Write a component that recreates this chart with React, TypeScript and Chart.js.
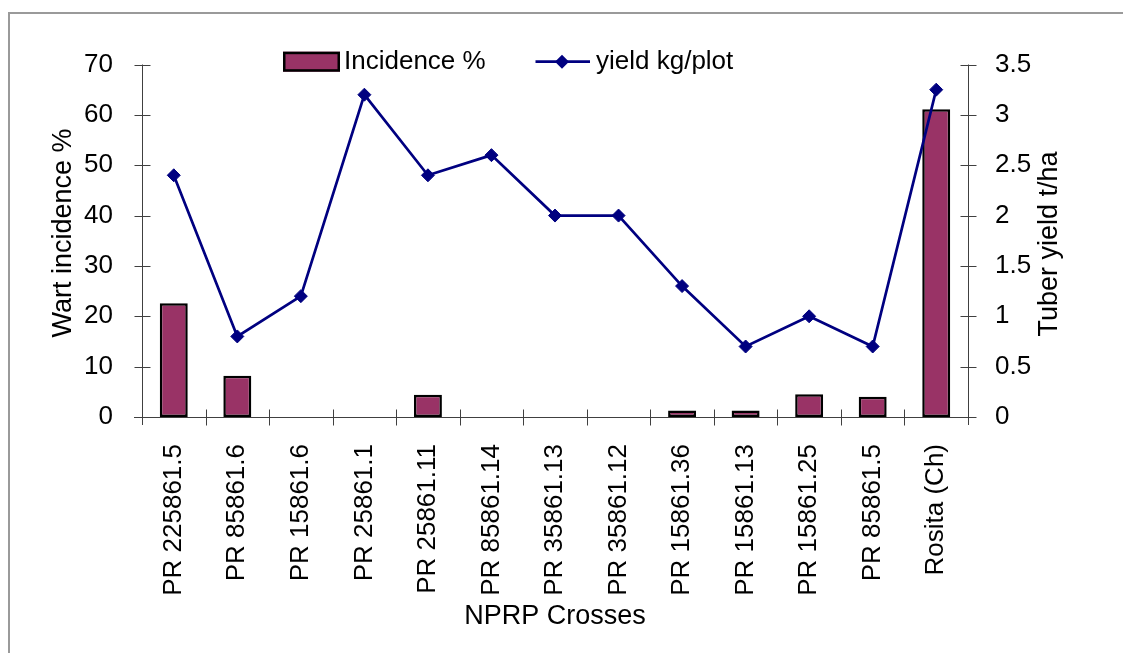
import React, { useEffect, useRef } from "react";
import { Chart, registerables } from "chart.js";

Chart.register(...registerables);

const categories = [
  "PR 225861.5",
  "PR 85861.6",
  "PR 15861.6",
  "PR 25861.1",
  "PR 25861.11",
  "PR 85861.14",
  "PR 35861.13",
  "PR 35861.12",
  "PR 15861.36",
  "PR 15861.13",
  "PR 15861.25",
  "PR 85861.5",
  "Rosita (Ch)",
];
const incidence = [22.6, 8.2, 0, 0, 4.4, 0, 0, 0, 1.3, 1.3, 4.5, 4.0, 61.1];
const yieldKg = [2.4, 0.8, 1.2, 3.2, 2.4, 2.6, 2.0, 2.0, 1.3, 0.7, 1.0, 0.7, 3.25];

const seriesNames = ["Incidence %", "yield kg/plot"];
const axisTitles = { x: "NPRP Crosses", y: "Wart incidence %", y1: "Tuber yield t/ha" };

const FONT = '"Liberation Sans", Arial, sans-serif';
const BAR_COLOR = "#993366";
const LINE_COLOR = "#000080";
const AXIS_COLOR = "#404040";

function diamond(ctx: CanvasRenderingContext2D, x: number, y: number, r: number) {
  ctx.beginPath();
  ctx.moveTo(x - r, y);
  ctx.lineTo(x, y - r);
  ctx.lineTo(x + r, y);
  ctx.lineTo(x, y + r);
  ctx.closePath();
  ctx.fill();
}

const customPlugin = {
  id: "customDecor",
  beforeDraw(chart: any) {
    const ctx = chart.ctx as CanvasRenderingContext2D;
    ctx.save();
    ctx.fillStyle = "#9a9a9a";
    ctx.fillRect(8, 12, chart.width - 8, 2);
    ctx.fillRect(8, 12, 2, chart.height - 12);
    ctx.restore();
  },
  beforeDatasetsDraw(chart: any) {
    const ctx = chart.ctx as CanvasRenderingContext2D;
    const { left, right, top, bottom } = chart.chartArea;
    const xs = chart.scales.x;
    const ys = chart.scales.y;
    const y1s = chart.scales.y1;
    ctx.save();
    ctx.strokeStyle = AXIS_COLOR;
    ctx.lineWidth = 1;
    const L = Math.round(left) + 0.5;
    const R = Math.round(right) + 0.5;
    const B = Math.round(bottom) + 0.5;
    ctx.beginPath();
    ctx.moveTo(L, top);
    ctx.lineTo(L, bottom + 8);
    ctx.moveTo(R, top);
    ctx.lineTo(R, bottom + 8);
    ctx.moveTo(left - 8, B);
    ctx.lineTo(right + 8, B);
    ys.ticks.forEach((t: any) => {
      const py = Math.round(ys.getPixelForValue(t.value)) + 0.5;
      ctx.moveTo(L - 8, py);
      ctx.lineTo(L + 8, py);
    });
    y1s.ticks.forEach((t: any) => {
      const py = Math.round(y1s.getPixelForValue(t.value)) + 0.5;
      ctx.moveTo(R - 8, py);
      ctx.lineTo(R + 8, py);
    });
    const n = categories.length;
    for (let i = 1; i < n; i++) {
      const px = Math.round((xs.getPixelForValue(i - 1) + xs.getPixelForValue(i)) / 2) + 0.5;
      ctx.moveTo(px, B - 8);
      ctx.lineTo(px, B + 8);
    }
    ctx.stroke();
    ctx.restore();
  },
  afterDraw(chart: any) {
    const ctx = chart.ctx as CanvasRenderingContext2D;
    const { left, right } = chart.chartArea;
    ctx.save();
    ctx.fillStyle = "#000";
    ctx.font = `27px ${FONT}`;
    ctx.textAlign = "center";
    ctx.textBaseline = "middle";
    ctx.fillText(axisTitles.x, (left + right) / 2, 617);
    ctx.save();
    ctx.translate(64, 233);
    ctx.rotate(-Math.PI / 2);
    ctx.fillText(axisTitles.y, 0, 0);
    ctx.restore();
    ctx.save();
    ctx.translate(1050, 244);
    ctx.rotate(-Math.PI / 2);
    ctx.fillText(axisTitles.y1, 0, 0);
    ctx.restore();

    const ly = 61.7;
    ctx.fillStyle = BAR_COLOR;
    ctx.fillRect(283, 51.7, 57, 20);
    ctx.strokeStyle = "#000";
    ctx.lineWidth = 2.5;
    ctx.strokeRect(284.25, 52.95, 54.5, 17.5);
    ctx.fillStyle = "#000";
    ctx.font = `26px ${FONT}`;
    ctx.textAlign = "left";
    ctx.fillText(seriesNames[0], 344, ly);

    ctx.strokeStyle = LINE_COLOR;
    ctx.lineWidth = 2.7;
    ctx.beginPath();
    ctx.moveTo(535.5, ly);
    ctx.lineTo(590, ly);
    ctx.stroke();
    ctx.fillStyle = LINE_COLOR;
    diamond(ctx, 562, ly, 7);
    ctx.fillStyle = "#000";
    ctx.fillText(seriesNames[1], 596, ly);
    ctx.restore();
  },
};

export default function App() {
  const canvasRef = useRef<HTMLCanvasElement | null>(null);

  useEffect(() => {
    if (!canvasRef.current) return;
    const chart = new Chart(canvasRef.current, {
      type: "bar",
      data: {
        labels: categories,
        datasets: [
          {
            type: "line",
            label: seriesNames[1],
            data: yieldKg,
            yAxisID: "y1",
            borderColor: LINE_COLOR,
            backgroundColor: LINE_COLOR,
            borderWidth: 2.7,
            pointStyle: "rectRot",
            pointRadius: 6.5,
            pointBorderWidth: 1,
            pointBackgroundColor: LINE_COLOR,
            pointBorderColor: LINE_COLOR,
            tension: 0,
            order: 0,
          } as any,
          {
            type: "bar",
            label: seriesNames[0],
            data: incidence,
            yAxisID: "y",
            backgroundColor: BAR_COLOR,
            borderColor: "#000",
            borderWidth: 2.5,
            borderSkipped: false,
            barPercentage: 0.44,
            categoryPercentage: 1,
            order: 1,
          } as any,
        ],
      },
      options: {
        animation: false,
        responsive: true,
        maintainAspectRatio: false,
        layout: { padding: { top: 64.5, left: 0, right: 0, bottom: 0 } },
        plugins: {
          legend: { display: false },
          tooltip: { enabled: false },
          title: { display: false },
        },
        scales: {
          x: {
            type: "category",
            offset: true,
            grid: { display: false },
            border: { display: false },
            ticks: {
              color: "#000",
              font: { family: FONT, size: 26 },
              minRotation: 90,
              maxRotation: 90,
              padding: 19,
              autoSkip: false,
            },
            afterFit: (s: any) => {
              s.height = 236;
            },
          },
          y: {
            type: "linear",
            position: "left",
            min: 0,
            max: 70,
            grid: { display: false },
            border: { display: false },
            ticks: {
              stepSize: 10,
              color: "#000",
              font: { family: FONT, size: 26 },
              padding: 21,
              callback: (v: any) => String(v),
            },
            afterFit: (s: any) => {
              s.width = 142;
            },
          },
          y1: {
            type: "linear",
            position: "right",
            min: 0,
            max: 3.5,
            grid: { display: false },
            border: { display: false },
            ticks: {
              stepSize: 0.5,
              color: "#000",
              font: { family: FONT, size: 26 },
              padding: 19,
              callback: (v: any) => String(v),
            },
            afterFit: (s: any) => {
              s.width = 155;
            },
          },
        },
      },
      plugins: [customPlugin],
    });
    return () => chart.destroy();
  }, []);

  return (
    <div
      style={{
        position: "fixed",
        left: 0,
        top: 0,
        width: 1123,
        height: 653,
        background: "#fff",
      }}
    >
      <canvas ref={canvasRef} />
    </div>
  );
}
